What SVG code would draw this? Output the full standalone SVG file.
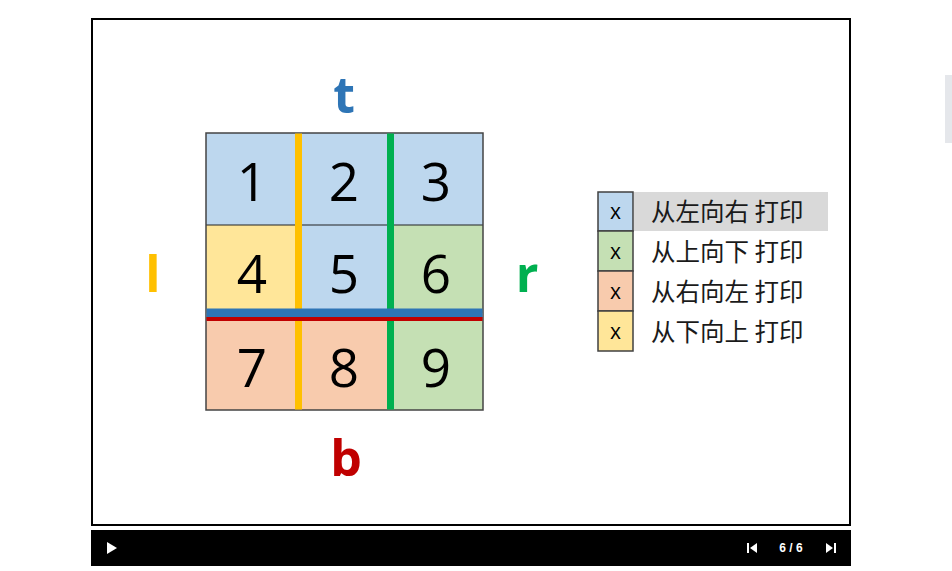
<svg xmlns="http://www.w3.org/2000/svg" width="952" height="571" viewBox="0 0 952 571">
<style>
.num{font-family:"Open Sans","Liberation Sans",sans-serif;font-size:53px;fill:#000;text-anchor:middle}
.lbl{font-family:"Open Sans","Liberation Sans",sans-serif;font-weight:bold;font-size:50px;text-anchor:middle}
.leg{font-family:"Noto Sans CJK SC","Noto Sans",sans-serif;font-size:24.5px;fill:#1a1a1a}
.lx{font-family:"Open Sans","Liberation Sans",sans-serif;font-size:21px;fill:#000;text-anchor:middle}
.cell{stroke:none}
.lb{stroke:#404040;stroke-width:1.5}
</style>
<rect width="952" height="571" fill="#fff"/>
<rect x="945" y="75" width="7" height="68" fill="#E5E7EB"/>
<g id="frame">
<rect x="92" y="19" width="758" height="506" fill="#fff" stroke="#000" stroke-width="2"/>
</g>
<g id="grid">
<rect class="cell" x="206" y="133" width="92" height="92" fill="#BDD7EE"/>
<rect class="cell" x="298" y="133" width="92" height="92" fill="#BDD7EE"/>
<rect class="cell" x="390" y="133" width="93" height="92" fill="#BDD7EE"/>
<rect class="cell" x="206" y="225" width="92" height="88" fill="#FFE699"/>
<rect class="cell" x="298" y="225" width="92" height="88" fill="#BDD7EE"/>
<rect class="cell" x="390" y="225" width="93" height="88" fill="#C5E0B4"/>
<rect class="cell" x="206" y="317" width="92" height="93" fill="#F8CBAD"/>
<rect class="cell" x="298" y="317" width="92" height="93" fill="#F8CBAD"/>
<rect class="cell" x="390" y="317" width="93" height="93" fill="#C5E0B4"/>
<line x1="206" y1="225" x2="483" y2="225" stroke="#222" stroke-width="1.2"/>
<rect x="206" y="133" width="277" height="277" fill="none" stroke="#444" stroke-width="1.5"/>
<line x1="298.5" y1="133.5" x2="298.5" y2="409.5" stroke="#FFC000" stroke-width="7"/>
<line x1="390.5" y1="133.5" x2="390.5" y2="409.5" stroke="#00B050" stroke-width="7"/>
<rect x="206.5" y="308.5" width="276" height="8.5" fill="#2E75B6"/>
<rect x="206.5" y="317" width="276" height="4" fill="#C00000"/>
<text class="num" x="252" y="201">1</text>
<text class="num" x="344" y="201">2</text>
<text class="num" x="436" y="201">3</text>
<text class="num" x="252" y="293">4</text>
<text class="num" x="344" y="293">5</text>
<text class="num" x="436" y="293">6</text>
<text class="num" x="252" y="387">7</text>
<text class="num" x="344" y="387">8</text>
<text class="num" x="436" y="387">9</text>
</g>
<g id="labels">
<text class="lbl" x="344" y="113" fill="#2E75B6">t</text>
<text class="lbl" x="153" y="292" fill="#FFC000">l</text>
<text class="lbl" x="527" y="292" fill="#00B050">r</text>
<text class="lbl" x="346" y="476" fill="#C00000">b</text>
</g>
<g id="legend">
<rect x="634" y="192" width="194" height="39" fill="#D9D9D9"/>
<rect class="lb" x="598" y="192" width="35" height="39" fill="#BDD7EE"/>
<rect class="lb" x="598" y="231" width="35" height="40" fill="#C5E0B4"/>
<rect class="lb" x="598" y="271" width="35" height="40" fill="#F8CBAD"/>
<rect class="lb" x="598" y="311" width="35" height="40" fill="#FFE699"/>
<text class="lx" x="615.5" y="219">x</text>
<text class="lx" x="615.5" y="259">x</text>
<text class="lx" x="615.5" y="299">x</text>
<text class="lx" x="615.5" y="339">x</text>
<text class="leg" x="651" y="221">从左向右 打印</text>
<text class="leg" x="651" y="261">从上向下 打印</text>
<text class="leg" x="651" y="301">从右向左 打印</text>
<text class="leg" x="651" y="341">从下向上 打印</text>
</g>
<g id="controls">
<rect x="91" y="530" width="760" height="36" fill="#000"/>
<polygon points="107,542 107,554 117,548" fill="#fff"/>
<rect x="747" y="543" width="2" height="10" fill="#fff"/>
<polygon points="757,543 757,553 750,548" fill="#fff"/>
<text x="791" y="552" fill="#fff" font-family="Liberation Sans, sans-serif" font-size="12" font-weight="bold" text-anchor="middle">6 / 6</text>
<polygon points="826,543 826,553 833,548" fill="#fff"/>
<rect x="834" y="543" width="2" height="10" fill="#fff"/>
</g>
</svg>
